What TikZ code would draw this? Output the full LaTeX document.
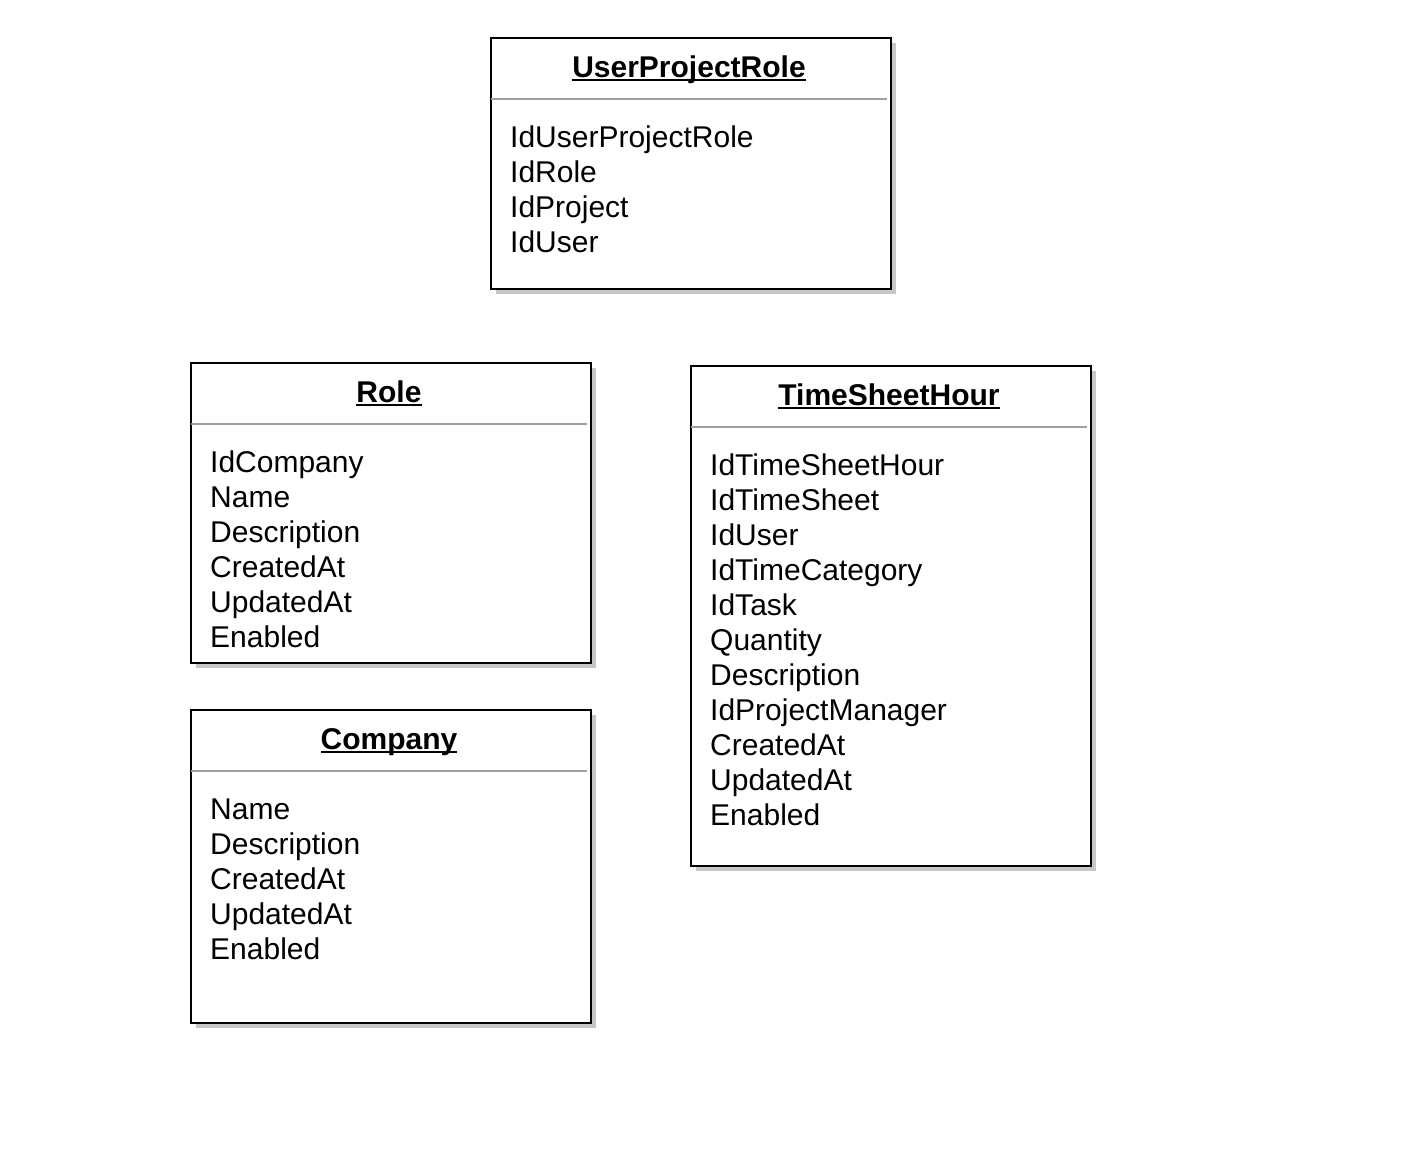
\documentclass[tikz,border=0pt]{standalone}
\usepackage{fontspec}
\setmainfont{Liberation Sans}
\usetikzlibrary{calc,shadows}
\definecolor{shadowgray}{HTML}{C6C6C6}
\definecolor{divgray}{HTML}{A0A0A0}
\newcommand\ulbox[1]{\setbox0\hbox{#1}\rlap{\rule[-4pt]{\wd0}{2.5pt}}\box0}
\tikzset{
  classbox/.style={draw=black, line width=2.5pt, fill=white, anchor=north west,
    inner sep=0pt, outer sep=0pt, minimum width=400pt,
    drop shadow={shadow xshift=5pt, shadow yshift=-5pt, fill=shadowgray, opacity=1}},
  titletext/.style={anchor=base, inner sep=0pt, font=\fontsize{30}{35}\selectfont\bfseries},
  attrtext/.style={anchor=base west, inner sep=0pt, font=\fontsize{30}{35}\selectfont},
  divline/.style={draw=divgray, line width=2.5pt}
}
\newcommand\umlclass[6]{%
  % #1 name, #2 x, #3 y, #4 height, #5 title, #6 attributes
  \node[classbox, minimum height=#4pt] (#1) at (#2,#3) {};
  \node[titletext] (#1-t) at ($(#1.north)+(-2,39)$) {\ulbox{#5}};
  \draw[divline] ($(#1.north west)+(0,61)$) coordinate (#1-dl) -- ($(#1.north east)+(-4,61)$) coordinate (#1-dr);
  \foreach \t [count=\i] in {#6} {
    \node[attrtext] (#1-\i) at ($(#1.north west)+(19,{74+35*\i})$) {\t};
  }
}
\begin{document}
\begin{tikzpicture}[x=1pt,y=-1pt]
\useasboundingbox (0,0) rectangle (1428,1159);
\fill[white] (0,0) rectangle (1428,1159);
\umlclass{upr}{491}{38}{251}{UserProjectRole}{IdUserProjectRole,IdRole,IdProject,IdUser}
\umlclass{role}{191}{363}{300}{Role}{IdCompany,Name,Description,CreatedAt,UpdatedAt,Enabled}
\umlclass{tsh}{691}{366}{500}{TimeSheetHour}{IdTimeSheetHour,IdTimeSheet,IdUser,IdTimeCategory,IdTask,Quantity,Description,IdProjectManager,CreatedAt,UpdatedAt,Enabled}
\umlclass{comp}{191}{710}{313}{Company}{Name,Description,CreatedAt,UpdatedAt,Enabled}
\end{tikzpicture}
\end{document}
